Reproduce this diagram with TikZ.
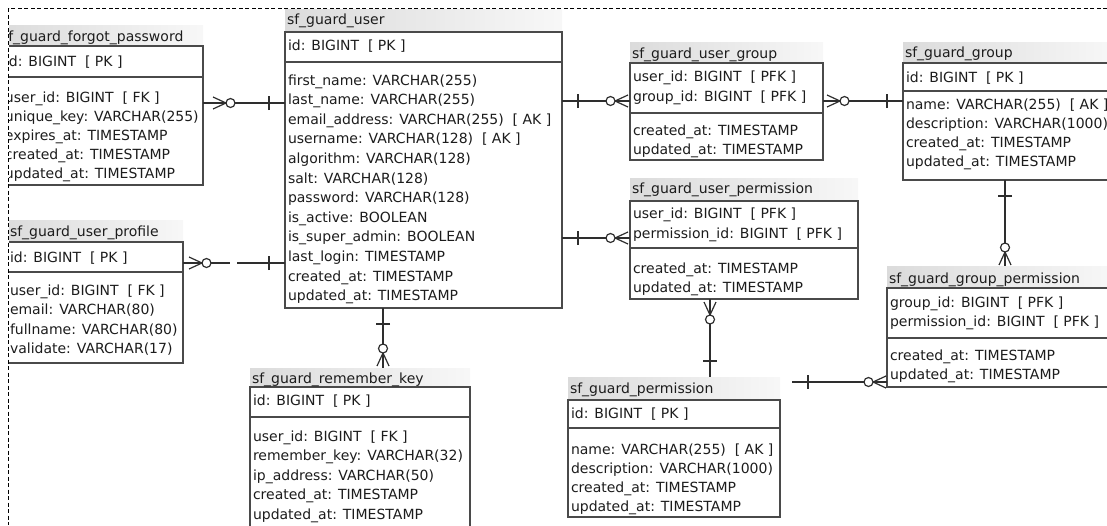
\documentclass[tikz,border=0pt]{standalone}
\usepackage{fontspec}
\setmainfont{DejaVu Sans}
\usetikzlibrary{fit}
\definecolor{txt}{HTML}{1C1C1C}
\definecolor{frm}{HTML}{4A4A4A}
\definecolor{lnk}{HTML}{2E2E2E}
\tikzset{
 row/.style={anchor=base west, inner sep=0pt, outer sep=0pt, text=txt, font=\fontsize{14}{16}\selectfont},
 frame/.style={draw=frm, line width=1.2pt},
 sepl/.style={draw=frm, line width=1.7pt},
 area/.style={inner sep=0pt, outer sep=0pt, draw=none},
 rel/.style={draw=lnk, line width=1.2pt},
 band/.style={left color=black!14, right color=black!3}
}
\newcommand\tframe[6]{%
 \node[area, fit={(#2,#4) (#3,#6)}] (#1) {};
 \shade[band] (#2,#4) rectangle (#3,#5);
 \draw[frame] (#2,#5) rectangle (#3,#6);}
\newcommand\sepline[3]{\draw[sepl] (#1,#3) -- (#2,#3);}
\newcommand\rowtext[4]{\node[row] (#1) at (#2,{#3+5}) {#4};}
\newcommand\many[3]{%
 \begin{scope}[shift={(#1)}, rotate=#2]
 \draw[rel] (#3,-6) -- ({#3+13},0) -- (#3,6) (#3,0) -- ({#3+13},0);
 \draw[rel, fill=white] ({#3+17.5},0) circle (4.5);
 \end{scope}}
\newcommand\one[2]{%
 \begin{scope}[shift={(#1)}, rotate=#2]
 \draw[rel] (16,-7) -- (16,7);
 \end{scope}}
\begin{document}
\begin{tikzpicture}[x=1pt, y=-1pt]
\useasboundingbox (0,0) rectangle (1107,525);
\begin{scope}
\clip (9,9) rectangle (1107,525);
% ---- sf_guard_forgot_password
\tframe{fp}{0}{203}{25}{46}{185}
\sepline{0}{203}{77}
\rowtext{fpt}{1}{36}{sf\_guard\_forgot\_password}
\rowtext{fp0}{5}{61}{id: BIGINT\ \ [ PK ]}
\rowtext{fp1}{5}{97}{user\_id: BIGINT\ \ [ FK ]}
\rowtext{fp2}{5}{116}{unique\_key: VARCHAR(255)}
\rowtext{fp3}{5}{135}{expires\_at: TIMESTAMP}
\rowtext{fp4}{5}{154}{created\_at: TIMESTAMP}
\rowtext{fp5}{5}{173}{updated\_at: TIMESTAMP}
% ---- sf_guard_user
\tframe{user}{285}{562}{9}{32}{308}
\sepline{285}{562}{62}
\rowtext{ut}{287}{19}{sf\_guard\_user}
\rowtext{u0}{288}{45}{id: BIGINT\ \ [ PK ]}
\rowtext{u1}{288}{80}{first\_name: VARCHAR(255)}
\rowtext{u2}{288}{99.6}{last\_name: VARCHAR(255)}
\rowtext{u3}{288}{119.2}{email\_address: VARCHAR(255)\ \ [ AK ]}
\rowtext{u4}{288}{138.8}{username: VARCHAR(128)\ \ [ AK ]}
\rowtext{u5}{288}{158.4}{algorithm: VARCHAR(128)}
\rowtext{u6}{288}{178}{salt: VARCHAR(128)}
\rowtext{u7}{288}{197.6}{password: VARCHAR(128)}
\rowtext{u8}{288}{217.2}{is\_active: BOOLEAN}
\rowtext{u9}{288}{236.8}{is\_super\_admin: BOOLEAN}
\rowtext{u10}{288}{256.4}{last\_login: TIMESTAMP}
\rowtext{u11}{288}{276}{created\_at: TIMESTAMP}
\rowtext{u12}{288}{295.6}{updated\_at: TIMESTAMP}
% ---- sf_guard_user_profile
\tframe{prof}{7}{183}{220}{242}{363}
\sepline{7}{183}{272}
\rowtext{pt}{10}{231}{sf\_guard\_user\_profile}
\rowtext{p0}{10}{257}{id: BIGINT\ \ [ PK ]}
\rowtext{p1}{10}{290}{user\_id: BIGINT\ \ [ FK ]}
\rowtext{p2}{10}{309.5}{email: VARCHAR(80)}
\rowtext{p3}{10}{329}{fullname: VARCHAR(80)}
\rowtext{p4}{10}{348.5}{validate: VARCHAR(17)}
% ---- sf_guard_remember_key
\tframe{rk}{250}{470}{368}{387}{535}
\sepline{250}{470}{417}
\rowtext{rkt}{252}{378}{sf\_guard\_remember\_key}
\rowtext{rk0}{253}{400}{id: BIGINT\ \ [ PK ]}
\rowtext{rk1}{253}{436}{user\_id: BIGINT\ \ [ FK ]}
\rowtext{rk2}{253}{455.5}{remember\_key: VARCHAR(32)}
\rowtext{rk3}{253}{475}{ip\_address: VARCHAR(50)}
\rowtext{rk4}{253}{494.5}{created\_at: TIMESTAMP}
\rowtext{rk5}{253}{514}{updated\_at: TIMESTAMP}
% ---- sf_guard_user_group
\tframe{ug}{630}{823}{42}{63}{160}
\sepline{630}{823}{113}
\rowtext{ugt}{632}{53}{sf\_guard\_user\_group}
\rowtext{ug1}{633}{76}{user\_id: BIGINT\ \ [ PFK ]}
\rowtext{ug2}{633}{96}{group\_id: BIGINT\ \ [ PFK ]}
\rowtext{ug3}{633}{130}{created\_at: TIMESTAMP}
\rowtext{ug4}{633}{149}{updated\_at: TIMESTAMP}
% ---- sf_guard_user_permission
\tframe{up}{630}{858}{178}{201}{299}
\sepline{630}{858}{248}
\rowtext{upt}{632}{188}{sf\_guard\_user\_permission}
\rowtext{up1}{633}{213}{user\_id: BIGINT\ \ [ PFK ]}
\rowtext{up2}{633}{233}{permission\_id: BIGINT\ \ [ PFK ]}
\rowtext{up3}{633}{268}{created\_at: TIMESTAMP}
\rowtext{up4}{633}{287}{updated\_at: TIMESTAMP}
% ---- sf_guard_group
\tframe{grp}{903}{1115}{42}{63}{180}
\sepline{903}{1115}{91}
\rowtext{gt}{905}{52}{sf\_guard\_group}
\rowtext{g0}{906}{77}{id: BIGINT\ \ [ PK ]}
\rowtext{g1}{906}{104}{name: VARCHAR(255)\ \ [ AK ]}
\rowtext{g2}{906}{123}{description: VARCHAR(1000)}
\rowtext{g3}{906}{142}{created\_at: TIMESTAMP}
\rowtext{g4}{906}{161}{updated\_at: TIMESTAMP}
% ---- sf_guard_group_permission
\tframe{gp}{887}{1115}{266}{288}{387}
\sepline{887}{1115}{338}
\rowtext{gpt}{889}{278}{sf\_guard\_group\_permission}
\rowtext{gp1}{890}{302}{group\_id: BIGINT\ \ [ PFK ]}
\rowtext{gp2}{890}{321}{permission\_id: BIGINT\ \ [ PFK ]}
\rowtext{gp3}{890}{355}{created\_at: TIMESTAMP}
\rowtext{gp4}{890}{374}{updated\_at: TIMESTAMP}
% ---- sf_guard_permission
\tframe{perm}{568}{780}{377}{400}{517}
\sepline{568}{780}{428}
\rowtext{pmt}{570}{388}{sf\_guard\_permission}
\rowtext{pm0}{571}{413}{id: BIGINT\ \ [ PK ]}
\rowtext{pm1}{571}{449}{name: VARCHAR(255)\ \ [ AK ]}
\rowtext{pm2}{571}{468}{description: VARCHAR(1000)}
\rowtext{pm3}{571}{487}{created\_at: TIMESTAMP}
\rowtext{pm4}{571}{506}{updated\_at: TIMESTAMP}
% ---- connectors
\draw[rel] (fp.east |- 0,103) -- (user.west |- 0,103);
\many{fp.east |- 0,103}{0}{10}
\one{user.west |- 0,103}{180}
\draw[rel, dash pattern=on 47pt off 7pt on 200pt] (prof.east |- 0,263) -- (user.west |- 0,263);
\many{prof.east |- 0,263}{0}{6}
\one{user.west |- 0,263}{180}
\draw[rel] (user.east |- 0,101) -- (ug.west |- 0,101);
\many{ug.west |- 0,101}{180}{2}
\one{user.east |- 0,101}{0}
\draw[rel] (user.east |- 0,238) -- (up.west |- 0,238);
\many{up.west |- 0,238}{180}{2}
\one{user.east |- 0,238}{0}
\draw[rel] (ug.east |- 0,101) -- (grp.west |- 0,101);
\many{ug.east |- 0,101}{0}{4}
\one{grp.west |- 0,101}{180}
\draw[rel] (grp.south -| 1005,0) -- (gp.north -| 1005,0);
\many{gp.north -| 1005,0}{90}{1}
\one{grp.south -| 1005,0}{-90}
\draw[rel] (up.south -| 710,0) -- (perm.north -| 710,0);
\many{up.south -| 710,0}{-90}{3}
\one{perm.north -| 710,0}{90}
\draw[rel] (user.south -| 383,0) -- (rk.north -| 383,0);
\many{rk.north -| 383,0}{90}{2}
\one{user.south -| 383,0}{-90}
\coordinate (pmfree) at ([xshift=12pt]perm.east |- 0,382);
\draw[rel] (pmfree) -- (gp.west |- 0,382);
\many{gp.west |- 0,382}{180}{1}
\one{pmfree}{0}
\end{scope}
\draw[black, line width=1.3pt, dash pattern=on 4pt off 2.5pt] (1107,8.5) -- (8.5,8.5) -- (8.5,525);
\end{tikzpicture}
\end{document}
